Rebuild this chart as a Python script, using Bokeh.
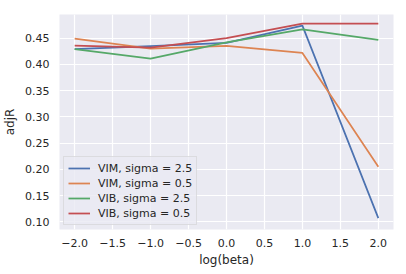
from bokeh.plotting import figure
from bokeh.models import FixedTicker, CustomJSTickFormatter, Range1d, Legend, LegendItem
from bokeh.embed import file_html
from bokeh.resources import INLINE

log_beta = [-2.0, -1.0, 0.0, 1.0, 2.0]
vim_25 = [0.429, 0.435, 0.441, 0.474, 0.107]
vim_05 = [0.449, 0.430, 0.4355, 0.422, 0.205]
vib_25 = [0.429, 0.411, 0.442, 0.467, 0.447]
vib_05 = [0.436, 0.432, 0.450, 0.478, 0.478]
series_names = ["VIM, sigma = 2.5", "VIM, sigma = 0.5", "VIB, sigma = 2.5", "VIB, sigma = 0.5"]
colors = ["#4C72B0", "#DD8452", "#55A868", "#C44E52"]
x_ticks = [-2.0, -1.5, -1.0, -0.5, 0.0, 0.5, 1.0, 1.5, 2.0]
y_ticks = [0.10, 0.15, 0.20, 0.25, 0.30, 0.35, 0.40, 0.45]

FONT = "DejaVu Sans"
TXT = "#262626"

p = figure(width=390, height=266, output_backend="svg", toolbar_location=None,
           x_range=Range1d(-2.2, 2.2), y_range=Range1d(0.0853, 0.4952),
           min_border_left=40, min_border_right=5, min_border_top=14, min_border_bottom=37)
p.frame_width = 334
p.frame_height = 215
p.background_fill_color = "#EAEAF2"
p.border_fill_color = "white"
p.outline_line_color = None

items = []
for ys, name, c in zip([vim_25, vim_05, vib_25, vib_05], series_names, colors):
    r = p.line(log_beta, ys, line_color=c, line_width=1.75)
    items.append(LegendItem(label=name, renderers=[r]))

for ax in (p.xaxis[0], p.yaxis[0]):
    ax.axis_line_color = None
    ax.major_tick_line_color = None
    ax.minor_tick_line_color = None
    ax.major_tick_out = 0
    ax.major_tick_in = 0
    ax.major_label_text_font = FONT
    ax.major_label_text_font_size = "11px"
    ax.major_label_text_color = TXT
    ax.axis_label_text_font = FONT
    ax.axis_label_text_font_size = "12px"
    ax.axis_label_text_font_style = "normal"
    ax.axis_label_text_color = TXT

p.xaxis.ticker = FixedTicker(ticks=x_ticks)
p.yaxis.ticker = FixedTicker(ticks=y_ticks)
p.xaxis.formatter = CustomJSTickFormatter(code="return tick.toFixed(1).replace('-', '\u2212');")
p.yaxis.formatter = CustomJSTickFormatter(code="return tick.toFixed(2);")
p.xaxis.axis_label = "log(beta)"
p.yaxis.axis_label = "adjR"
p.xaxis.major_label_standoff = 9
p.yaxis.major_label_standoff = 10
p.xaxis.axis_label_standoff = 3
p.yaxis.axis_label_standoff = 5

p.xgrid.ticker = FixedTicker(ticks=x_ticks)
p.ygrid.ticker = FixedTicker(ticks=y_ticks)
p.grid.grid_line_color = "white"
p.grid.grid_line_width = 1.2

legend = Legend(items=items, location="bottom_left")
legend.margin = 4
legend.padding = 4
legend.spacing = 1
legend.label_text_font = FONT
legend.label_text_font_size = "11px"
legend.label_text_color = TXT
legend.label_height = 14
legend.glyph_height = 14
legend.glyph_width = 22
legend.label_standoff = 8
legend.background_fill_color = "#EAEAF2"
legend.background_fill_alpha = 0.8
legend.border_line_color = "#cccccc"
legend.border_line_width = 1
p.add_layout(legend)

open("out.html", "w").write(file_html(p, INLINE))
